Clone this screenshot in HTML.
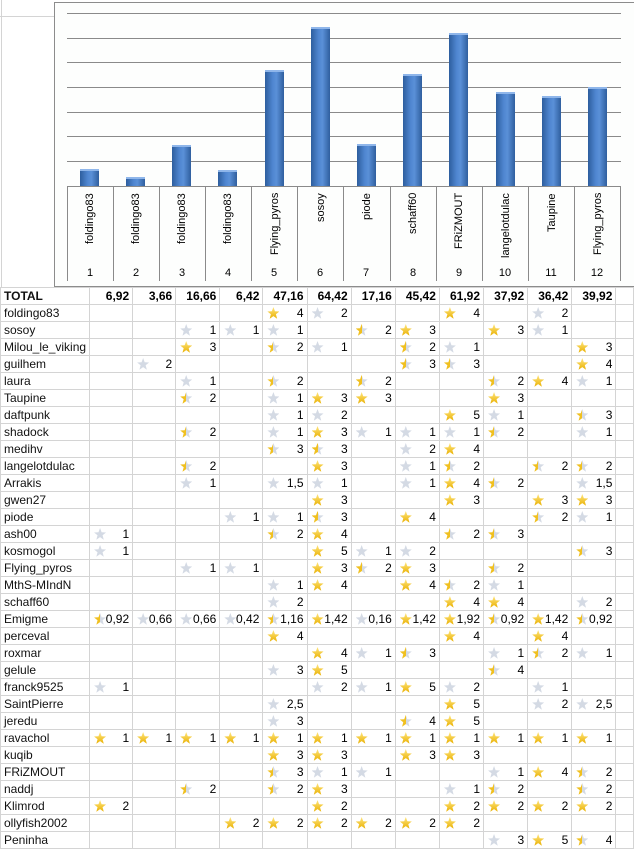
<!DOCTYPE html>
<html><head><meta charset="utf-8"><style>
body{margin:0;width:634px;height:851px;overflow:hidden;background:#fff;font-family:"Liberation Sans",sans-serif;position:relative}
#chart{position:absolute;left:54px;top:2px;width:600px;height:283px;border:1px solid #8c8c8c;background:#fdfefd}
.g{position:absolute;left:67px;width:554px;height:0;border-top:1.5px solid #8a8a8a}
.b{position:absolute;width:19px;background:linear-gradient(90deg,#2d5e9e,#4f86d0 40%,#5a90d8 60%,#2f5f9e);border-top:2px solid #8fb6ea;box-sizing:border-box}
.cv{position:absolute;top:186px;height:95px;width:0;border-left:1px solid #8a8a8a}
.lb{position:absolute;top:193px;height:72px;width:14px;writing-mode:vertical-rl;transform:rotate(180deg);text-align:right;font-size:11px;color:#000;line-height:14px;white-space:nowrap}
.n{position:absolute;top:267px;width:46px;text-align:center;font-size:11px}
table{position:absolute;left:0;top:287px;border-collapse:collapse;table-layout:fixed}
td{height:16px;padding:0 3px 0 0;border:1px solid #d4d4d4;font-size:12px;text-align:right;position:relative;white-space:nowrap;overflow:visible;line-height:16px;color:#000}
td:first-child{text-align:left;padding-left:3px;color:#111}
tr.t td{font-weight:bold}
i{position:absolute;left:4px;top:2px;width:12px;height:12px;clip-path:polygon(50% 0,63% 35%,100% 38%,71% 60%,81% 98%,50% 76%,19% 98%,29% 60%,0 38%,37% 35%)}
i.f{background:linear-gradient(#ffe680,#e9b000)}
i.h{background:linear-gradient(90deg,#f0c020 50%,#d4dae4 50%)}
i.e{background:#d4dae4}
</style></head><body>
<div style="position:absolute;left:0;top:16px;width:54px;border-top:1px solid #d4d4d4"></div>
<div style="position:absolute;left:1px;top:0;height:287px;border-left:1px solid #d4d4d4"></div>
<div id="chart"></div>
<div class="g" style="top:13px"></div><div class="g" style="top:37.5px"></div><div class="g" style="top:62px"></div><div class="g" style="top:87px"></div><div class="g" style="top:111.5px"></div><div class="g" style="top:136px"></div><div class="g" style="top:161px"></div><div class="g" style="top:185.5px"></div>
<div class="b" style="left:80px;top:169px;height:17px"></div>
<div class="b" style="left:126px;top:177px;height:9px"></div>
<div class="b" style="left:172px;top:145px;height:41px"></div>
<div class="b" style="left:218px;top:170px;height:16px"></div>
<div class="b" style="left:265px;top:70px;height:116px"></div>
<div class="b" style="left:311px;top:27px;height:159px"></div>
<div class="b" style="left:357px;top:144px;height:42px"></div>
<div class="b" style="left:403px;top:74px;height:112px"></div>
<div class="b" style="left:449px;top:33px;height:153px"></div>
<div class="b" style="left:496px;top:92px;height:94px"></div>
<div class="b" style="left:542px;top:96px;height:90px"></div>
<div class="b" style="left:588px;top:87px;height:99px"></div>
<div class="cv" style="left:67px"></div><div class="cv" style="left:113px"></div><div class="cv" style="left:159px"></div><div class="cv" style="left:205px"></div><div class="cv" style="left:251px"></div><div class="cv" style="left:297px"></div><div class="cv" style="left:343px"></div><div class="cv" style="left:390px"></div><div class="cv" style="left:436px"></div><div class="cv" style="left:482px"></div><div class="cv" style="left:528px"></div><div class="cv" style="left:574px"></div><div class="cv" style="left:620px"></div>
<div class="lb" style="left:83px">foldingo83</div>
<div class="lb" style="left:129px">foldingo83</div>
<div class="lb" style="left:175px">foldingo83</div>
<div class="lb" style="left:221px">foldingo83</div>
<div class="lb" style="left:268px">Flying_pyros</div>
<div class="lb" style="left:314px">sosoy</div>
<div class="lb" style="left:360px">piode</div>
<div class="lb" style="left:406px">schaff60</div>
<div class="lb" style="left:452px">FRiZMOUT</div>
<div class="lb" style="left:499px">langelotdulac</div>
<div class="lb" style="left:545px">Taupine</div>
<div class="lb" style="left:591px">Flying_pyros</div>
<div class="n" style="left:67px">1</div><div class="n" style="left:113px">2</div><div class="n" style="left:159px">3</div><div class="n" style="left:205px">4</div><div class="n" style="left:251px">5</div><div class="n" style="left:297px">6</div><div class="n" style="left:343px">7</div><div class="n" style="left:390px">8</div><div class="n" style="left:436px">9</div><div class="n" style="left:482px">10</div><div class="n" style="left:528px">11</div><div class="n" style="left:574px">12</div>
<table>
<colgroup><col style="width:68px"><col style="width:46px"><col style="width:46px"><col style="width:46px"><col style="width:46px"><col style="width:46px"><col style="width:46px"><col style="width:46px"><col style="width:46px"><col style="width:46px"><col style="width:46px"><col style="width:46px"><col style="width:46px"><col style="width:20px"></colgroup>
<tr class="t"><td>TOTAL</td><td>6,92</td><td>3,66</td><td>16,66</td><td>6,42</td><td>47,16</td><td>64,42</td><td>17,16</td><td>45,42</td><td>61,92</td><td>37,92</td><td>36,42</td><td>39,92</td><td></td></tr>
<tr><td>foldingo83</td><td></td><td></td><td></td><td></td><td><i class="f"></i>4</td><td><i class="e"></i>2</td><td></td><td></td><td><i class="f"></i>4</td><td></td><td><i class="e"></i>2</td><td></td><td></td></tr>
<tr><td>sosoy</td><td></td><td></td><td><i class="e"></i>1</td><td><i class="e"></i>1</td><td><i class="e"></i>1</td><td></td><td><i class="h"></i>2</td><td><i class="f"></i>3</td><td></td><td><i class="f"></i>3</td><td><i class="e"></i>1</td><td></td><td></td></tr>
<tr><td>Milou_le_viking</td><td></td><td></td><td><i class="f"></i>3</td><td></td><td><i class="h"></i>2</td><td><i class="e"></i>1</td><td></td><td><i class="h"></i>2</td><td><i class="e"></i>1</td><td></td><td></td><td><i class="f"></i>3</td><td></td></tr>
<tr><td>guilhem</td><td></td><td><i class="e"></i>2</td><td></td><td></td><td></td><td></td><td></td><td><i class="h"></i>3</td><td><i class="h"></i>3</td><td></td><td></td><td><i class="f"></i>4</td><td></td></tr>
<tr><td>laura</td><td></td><td></td><td><i class="e"></i>1</td><td></td><td><i class="h"></i>2</td><td></td><td><i class="h"></i>2</td><td></td><td></td><td><i class="h"></i>2</td><td><i class="f"></i>4</td><td><i class="e"></i>1</td><td></td></tr>
<tr><td>Taupine</td><td></td><td></td><td><i class="h"></i>2</td><td></td><td><i class="e"></i>1</td><td><i class="f"></i>3</td><td><i class="f"></i>3</td><td></td><td></td><td><i class="f"></i>3</td><td></td><td></td><td></td></tr>
<tr><td>daftpunk</td><td></td><td></td><td></td><td></td><td><i class="e"></i>1</td><td><i class="e"></i>2</td><td></td><td></td><td><i class="f"></i>5</td><td><i class="e"></i>1</td><td></td><td><i class="h"></i>3</td><td></td></tr>
<tr><td>shadock</td><td></td><td></td><td><i class="h"></i>2</td><td></td><td><i class="e"></i>1</td><td><i class="f"></i>3</td><td><i class="e"></i>1</td><td><i class="e"></i>1</td><td><i class="e"></i>1</td><td><i class="h"></i>2</td><td></td><td><i class="e"></i>1</td><td></td></tr>
<tr><td>medihv</td><td></td><td></td><td></td><td></td><td><i class="h"></i>3</td><td><i class="h"></i>3</td><td></td><td><i class="e"></i>2</td><td><i class="f"></i>4</td><td></td><td></td><td></td><td></td></tr>
<tr><td>langelotdulac</td><td></td><td></td><td><i class="h"></i>2</td><td></td><td></td><td><i class="f"></i>3</td><td></td><td><i class="e"></i>1</td><td><i class="h"></i>2</td><td></td><td><i class="h"></i>2</td><td><i class="h"></i>2</td><td></td></tr>
<tr><td>Arrakis</td><td></td><td></td><td><i class="e"></i>1</td><td></td><td><i class="e"></i>1,5</td><td><i class="e"></i>1</td><td></td><td><i class="e"></i>1</td><td><i class="f"></i>4</td><td><i class="h"></i>2</td><td></td><td><i class="e"></i>1,5</td><td></td></tr>
<tr><td>gwen27</td><td></td><td></td><td></td><td></td><td></td><td><i class="f"></i>3</td><td></td><td></td><td><i class="f"></i>3</td><td></td><td><i class="f"></i>3</td><td><i class="f"></i>3</td><td></td></tr>
<tr><td>piode</td><td></td><td></td><td></td><td><i class="e"></i>1</td><td><i class="e"></i>1</td><td><i class="h"></i>3</td><td></td><td><i class="f"></i>4</td><td></td><td></td><td><i class="h"></i>2</td><td><i class="e"></i>1</td><td></td></tr>
<tr><td>ash00</td><td><i class="e"></i>1</td><td></td><td></td><td></td><td><i class="h"></i>2</td><td><i class="f"></i>4</td><td></td><td></td><td><i class="h"></i>2</td><td><i class="h"></i>3</td><td></td><td></td><td></td></tr>
<tr><td>kosmogol</td><td><i class="e"></i>1</td><td></td><td></td><td></td><td></td><td><i class="f"></i>5</td><td><i class="e"></i>1</td><td><i class="e"></i>2</td><td></td><td></td><td></td><td><i class="h"></i>3</td><td></td></tr>
<tr><td>Flying_pyros</td><td></td><td></td><td><i class="e"></i>1</td><td><i class="e"></i>1</td><td></td><td><i class="f"></i>3</td><td><i class="h"></i>2</td><td><i class="f"></i>3</td><td></td><td><i class="h"></i>2</td><td></td><td></td><td></td></tr>
<tr><td>MthS-MIndN</td><td></td><td></td><td></td><td></td><td><i class="e"></i>1</td><td><i class="f"></i>4</td><td></td><td><i class="f"></i>4</td><td><i class="h"></i>2</td><td><i class="e"></i>1</td><td></td><td></td><td></td></tr>
<tr><td>schaff60</td><td></td><td></td><td></td><td></td><td><i class="e"></i>2</td><td></td><td></td><td></td><td><i class="f"></i>4</td><td><i class="f"></i>4</td><td></td><td><i class="e"></i>2</td><td></td></tr>
<tr><td>Emigme</td><td><i class="h"></i>0,92</td><td><i class="e"></i>0,66</td><td><i class="e"></i>0,66</td><td><i class="e"></i>0,42</td><td><i class="h"></i>1,16</td><td><i class="f"></i>1,42</td><td><i class="e"></i>0,16</td><td><i class="f"></i>1,42</td><td><i class="f"></i>1,92</td><td><i class="h"></i>0,92</td><td><i class="f"></i>1,42</td><td><i class="h"></i>0,92</td><td></td></tr>
<tr><td>perceval</td><td></td><td></td><td></td><td></td><td><i class="f"></i>4</td><td></td><td></td><td></td><td><i class="f"></i>4</td><td></td><td><i class="f"></i>4</td><td></td><td></td></tr>
<tr><td>roxmar</td><td></td><td></td><td></td><td></td><td></td><td><i class="f"></i>4</td><td><i class="e"></i>1</td><td><i class="h"></i>3</td><td></td><td><i class="e"></i>1</td><td><i class="h"></i>2</td><td><i class="e"></i>1</td><td></td></tr>
<tr><td>gelule</td><td></td><td></td><td></td><td></td><td><i class="e"></i>3</td><td><i class="f"></i>5</td><td></td><td></td><td></td><td><i class="h"></i>4</td><td></td><td></td><td></td></tr>
<tr><td>franck9525</td><td><i class="e"></i>1</td><td></td><td></td><td></td><td></td><td><i class="e"></i>2</td><td><i class="e"></i>1</td><td><i class="f"></i>5</td><td><i class="e"></i>2</td><td></td><td><i class="e"></i>1</td><td></td><td></td></tr>
<tr><td>SaintPierre</td><td></td><td></td><td></td><td></td><td><i class="e"></i>2,5</td><td></td><td></td><td></td><td><i class="f"></i>5</td><td></td><td><i class="e"></i>2</td><td><i class="e"></i>2,5</td><td></td></tr>
<tr><td>jeredu</td><td></td><td></td><td></td><td></td><td><i class="e"></i>3</td><td></td><td></td><td><i class="h"></i>4</td><td><i class="f"></i>5</td><td></td><td></td><td></td><td></td></tr>
<tr><td>ravachol</td><td><i class="f"></i>1</td><td><i class="f"></i>1</td><td><i class="f"></i>1</td><td><i class="f"></i>1</td><td><i class="f"></i>1</td><td><i class="f"></i>1</td><td><i class="f"></i>1</td><td><i class="f"></i>1</td><td><i class="f"></i>1</td><td><i class="f"></i>1</td><td><i class="f"></i>1</td><td><i class="f"></i>1</td><td></td></tr>
<tr><td>kuqib</td><td></td><td></td><td></td><td></td><td><i class="f"></i>3</td><td><i class="f"></i>3</td><td></td><td><i class="f"></i>3</td><td><i class="f"></i>3</td><td></td><td></td><td></td><td></td></tr>
<tr><td>FRiZMOUT</td><td></td><td></td><td></td><td></td><td><i class="h"></i>3</td><td><i class="e"></i>1</td><td><i class="e"></i>1</td><td></td><td></td><td><i class="e"></i>1</td><td><i class="f"></i>4</td><td><i class="h"></i>2</td><td></td></tr>
<tr><td>naddj</td><td></td><td></td><td><i class="h"></i>2</td><td></td><td><i class="h"></i>2</td><td><i class="f"></i>3</td><td></td><td></td><td><i class="e"></i>1</td><td><i class="h"></i>2</td><td></td><td><i class="h"></i>2</td><td></td></tr>
<tr><td>Klimrod</td><td><i class="f"></i>2</td><td></td><td></td><td></td><td></td><td><i class="f"></i>2</td><td></td><td></td><td><i class="f"></i>2</td><td><i class="f"></i>2</td><td><i class="f"></i>2</td><td><i class="f"></i>2</td><td></td></tr>
<tr><td>ollyfish2002</td><td></td><td></td><td></td><td><i class="f"></i>2</td><td><i class="f"></i>2</td><td><i class="f"></i>2</td><td><i class="f"></i>2</td><td><i class="f"></i>2</td><td><i class="f"></i>2</td><td></td><td></td><td></td><td></td></tr>
<tr><td>Peninha</td><td></td><td></td><td></td><td></td><td></td><td></td><td></td><td></td><td></td><td><i class="e"></i>3</td><td><i class="f"></i>5</td><td><i class="h"></i>4</td><td></td></tr>
</table>
</body></html>
